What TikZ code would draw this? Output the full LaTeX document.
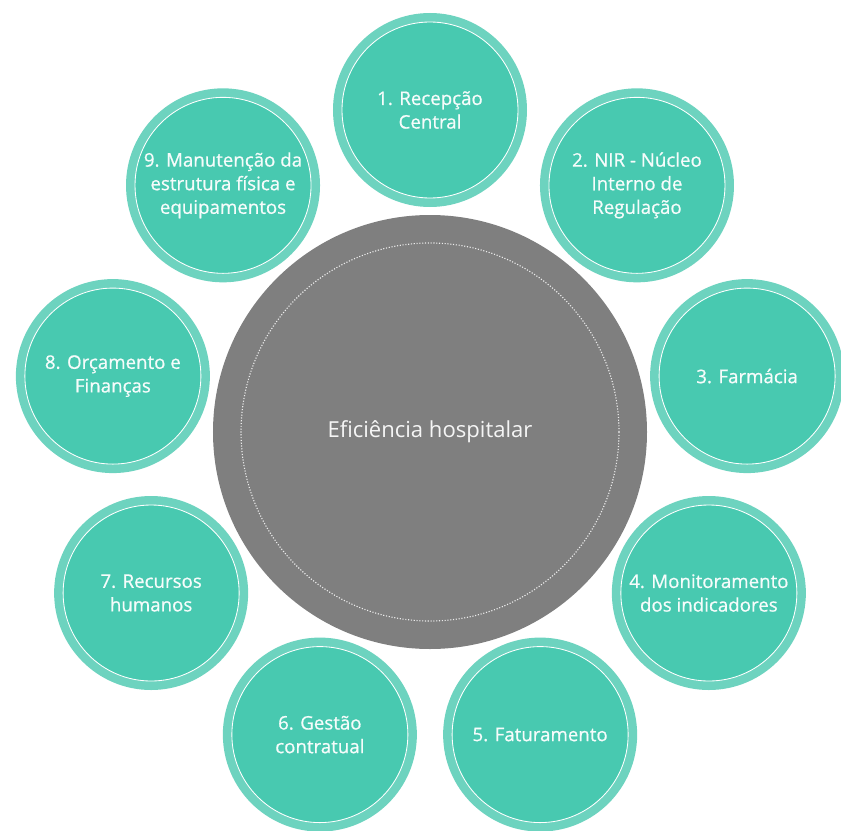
\documentclass[tikz,border=0pt]{standalone}
\RequirePackage{fontspec}
\RequirePackage{tikz}
\setmainfont{Open Sans}
\newfontfamily\satfont{Open Sans}[FakeBold=0.7]
\definecolor{tealfill}{HTML}{48C9B0}
\definecolor{tealring}{HTML}{6DD3BF}
\definecolor{hubgray}{HTML}{7F7F7F}

\begin{document}
\begin{tikzpicture}[
        satellite/.style={circle, fill=tealfill, draw=tealring, line width=0.225cm,
            minimum size=4.625cm, inner sep=0pt, align=center, text=white!95!tealfill,
            font=\satfont\fontsize{13.3}{16.8}\selectfont},
        hub/.style={circle, fill=hubgray, minimum size=10.85cm, inner sep=0pt,
            text=white!92!hubgray, font=\fontsize{15.7}{19}\selectfont}]
        \useasboundingbox (-10.75, -9.95) rectangle (10.275, 10.8);

        \node[hub] (hub) at (0, 0) {Eficiência hospitalar};
        \draw[white!85!hubgray, line width=0.8pt, dash pattern=on 0.8pt off 1.2pt] (hub.center) circle (4.725);

        \foreach \i/\ang/\txt in {1/90/{1. Recepção\\Central}, 2/50/{2. NIR - Núcleo\\Interno de\\Regulação},
                3/10/{3. Farmácia}, 4/-30/{4. Monitoramento\\dos indicadores}, 5/-70/{5. Faturamento},
                6/-110/{6. Gestão\\contratual}, 7/-150/{7. Recursos\\humanos}, 8/170/{8. Orçamento e\\Finanças},
                9/130/{9. Manutenção da\\estrutura física e\\equipamentos}} {
            \node[satellite] (s\i) at (\ang:8.05) {\txt};
            \draw[white, line width=0.6pt] (s\i.center) circle (2.2);
        }
    \end{tikzpicture}
\end{document}
